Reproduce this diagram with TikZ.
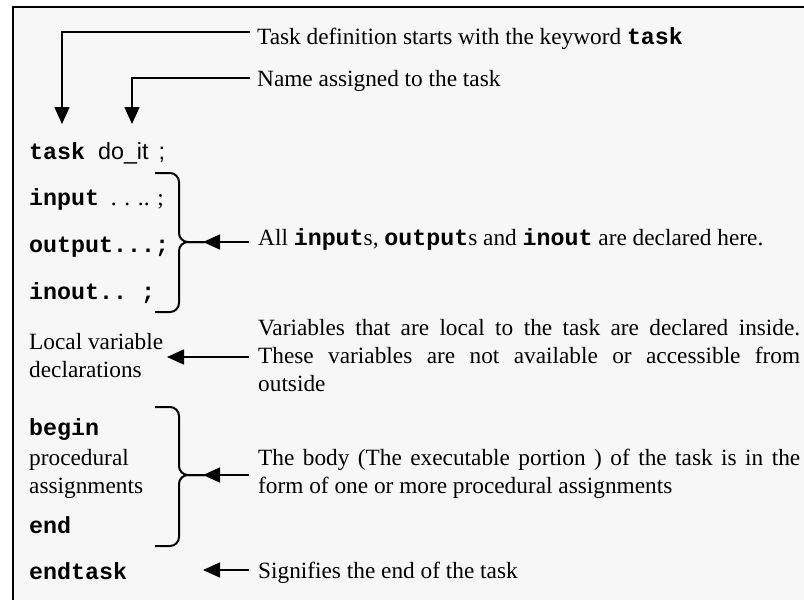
\documentclass[tikz,border=0pt]{standalone}
\usepackage{fontspec}
\setmainfont{Liberation Serif}
\setmonofont{Liberation Mono}
\newfontfamily\arialfont{Liberation Sans}
\usetikzlibrary{arrows.meta}
\newcommand{\kw}[1]{{\ttfamily\bfseries #1}}
\begin{document}
\begin{tikzpicture}[x=1pt,y=-1pt,
  txt/.style={anchor=base west, inner sep=0pt, align=left, font=\fontsize{23.3}{28}\selectfont},
  arr/.style={line width=1.6pt, -{Triangle[length=17pt,width=15pt]}},
  bracepath/.style={line width=2pt, rounded corners=9pt},
]
\useasboundingbox (0,0) rectangle (804,600);
\fill[white] (0,0) rectangle (804,600);
\fill[black!3] (13,7) rectangle (804,600);
\draw[line width=2.8pt] (13,600) -- (13,7) -- (804,7);

% left column
\node[txt] (ctask) at (29,159) {\kw{task}\hspace{13pt}{\arialfont do\_it\hspace{10pt};}};
\node[txt] (cin) at (29,205) {\kw{input} \ . . .. ;};
\node[txt] (cout) at (29,252) {\kw{output...;}};
\node[txt] (cinout) at (29,299) {\kw{inout.. ;}};
\node[txt] (cloc) at (29,377) {Local variable\\declarations};
\node[txt] (cbeg) at (29,435) {\kw{begin}};
\node[txt] (cproc) at (29,493) {procedural\\assignments};
\node[txt] (cend) at (29,533) {\kw{end}};
\node[txt] (cendt) at (29,579) {\kw{endtask}};

% right column
\node[txt] (t1) at (257,44) {Task definition starts with the keyword \kw{task}};
\node[txt] (t2) at (257,86) {Name assigned to the task};
\node[txt] (t3) at (258,245) {All \kw{input}s, \kw{output}s and \kw{inout} are declared here.};
\node[txt] (t4) at (258,391) {\makebox[542pt][s]{Variables that are local to the task are declared inside.}\\\makebox[542pt][s]{These variables are not available or accessible from}\\outside};
\node[txt] (t5) at (258,493) {\makebox[542pt][s]{The body (The executable portion ) of the task is in the}\\form of one or more procedural assignments};
\node[txt] (t6) at (258,578) {Signifies the end of the task};

% connector ends
\coordinate (s1) at (250,32);
\coordinate (e1) at (62,124);
\coordinate (s2) at (250,78);
\coordinate (e2) at (132,124);
\coordinate (s3) at (249,242);
\coordinate (e3) at (203,242);
\coordinate (s4) at (249,357);
\coordinate (e4) at (167,357);
\coordinate (s5) at (249,475);
\coordinate (e5) at (203,475);
\coordinate (s6) at (249,570);
\coordinate (e6) at (203,570);

% braces
\draw[bracepath] (155,173) -- (179,173) -- (179,242) -- (205,242);
\draw[bracepath] (205,242) -- (179,242) -- (179,312) -- (155,312);
\draw[bracepath] (155,407) -- (179,407) -- (179,475) -- (205,475);
\draw[bracepath] (205,475) -- (179,475) -- (179,546) -- (155,546);

% arrows
\draw[arr] (s1) -| (e1);
\draw[arr] (s2) -| (e2);
\draw[arr] (s3) -- (e3);
\draw[arr] (s4) -- (e4);
\draw[arr] (s5) -- (e5);
\draw[arr] (s6) -- (e6);
\end{tikzpicture}
\end{document}
